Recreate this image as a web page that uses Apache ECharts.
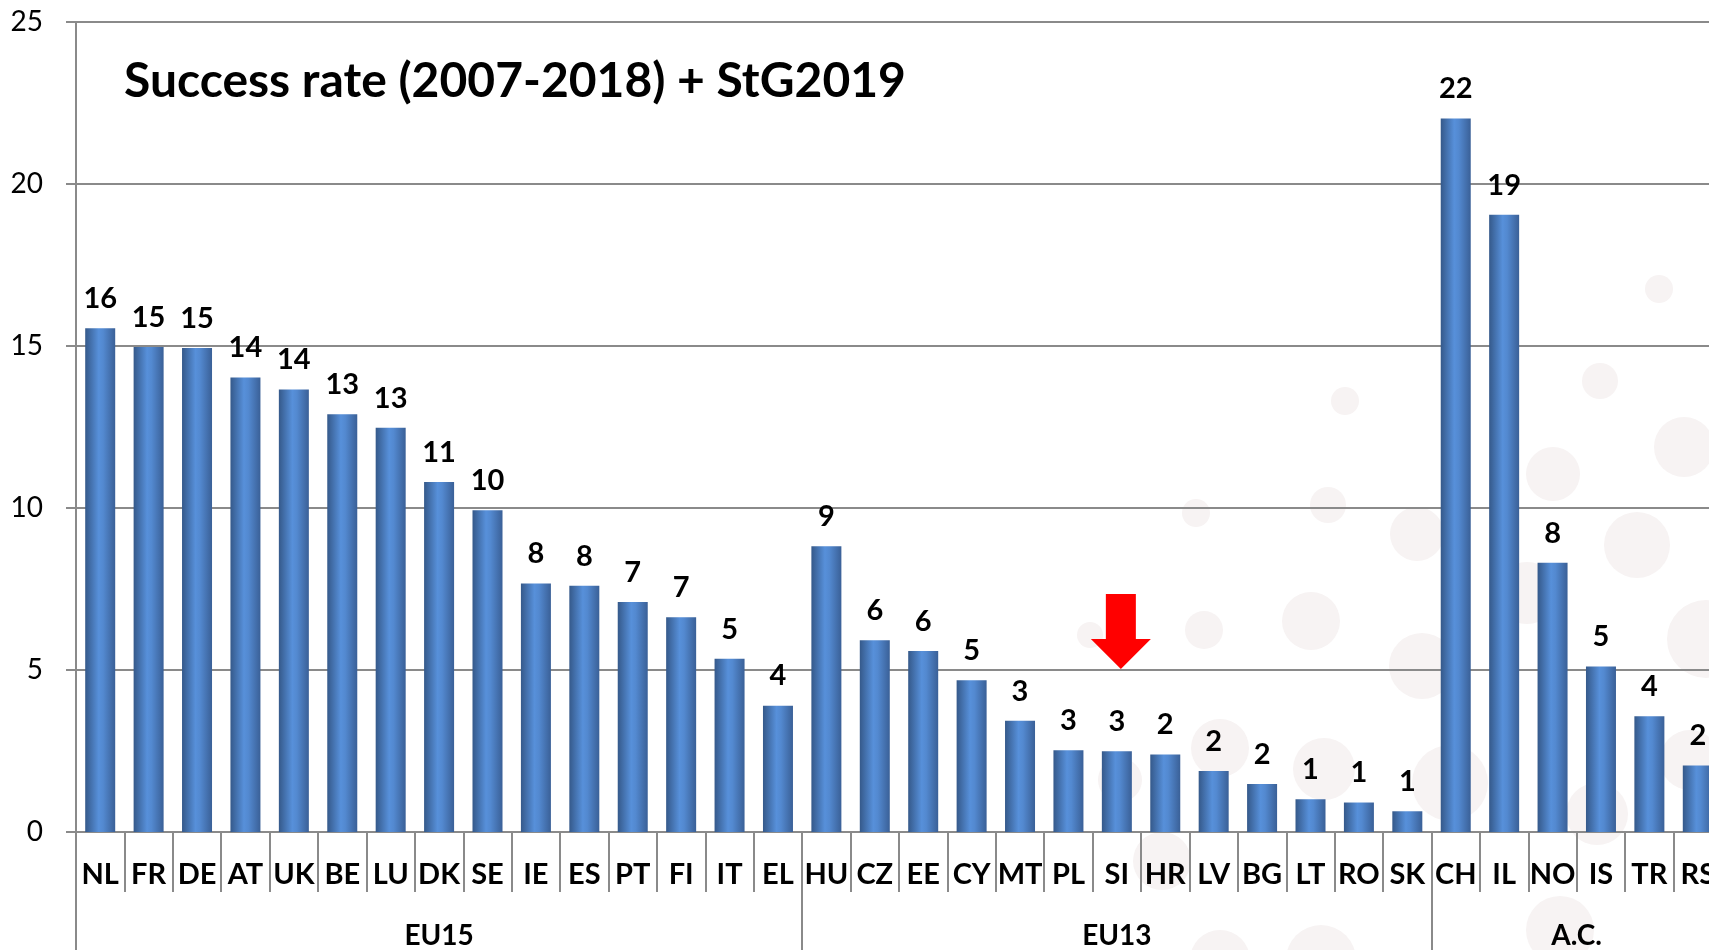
<!DOCTYPE html>
<html>
<head>
<meta charset="utf-8">
<script src="https://cdn.jsdelivr.net/npm/echarts@6/dist/echarts.min.js"></script>
<style>
  html, body { margin: 0; padding: 0; background: #fff; overflow: hidden; }
  #main { width: 1722px; height: 950px; }
</style>
</head>
<body>
<div id="main"></div>
<script>
// 国家代码
const countries = [
  'NL', 'FR', 'DE', 'AT', 'UK', 'BE', 'LU', 'DK', 'SE', 'IE', 'ES', 'PT', 'FI', 'IT', 'EL',
  'HU', 'CZ', 'EE', 'CY', 'MT', 'PL', 'SI', 'HR', 'LV', 'BG', 'LT', 'RO', 'SK',
  'CH', 'IL', 'NO', 'IS', 'TR', 'RS'
]
// success rate (%)
const rates = [
  15.55, 14.97, 14.94, 14.03, 13.66, 12.89, 12.48, 10.8, 9.93, 7.67, 7.6, 7.1, 6.63, 5.35, 3.9,
  8.82, 5.92, 5.59, 4.68, 3.43, 2.52, 2.49, 2.39, 1.88, 1.48, 1.01, 0.91, 0.64,
  22.02, 19.05, 8.31, 5.11, 3.57, 2.05
]
// labels shown on top of bars
const rateLabels = [
  '16', '15', '15', '14', '14', '13', '13', '11', '10', '8', '8', '7', '7', '5', '4',
  '9', '6', '6', '5', '3', '3', '3', '2', '2', '2', '1', '1', '1',
  '22', '19', '8', '5', '4', '2'
]
// groups: name, first index, count
const groupNames = ['EU15', 'EU13', 'A.C.']
const groupStart = [0, 15, 28]
const groupSize = [15, 13, 6]
const yTicks = [0, 5, 10, 15, 20, 25]
const markedCountry = 'SI'

const chartObj = echarts.init(document.getElementById('main'))

const gridColor = '#8a8a8a'
const font = 'Lato, "Open Sans", sans-serif'

// background dots
const dots = [
  [1659, 289, 14], [1600, 381, 18], [1684, 447, 30], [1553, 474, 27], [1345, 401, 14],
  [1328, 505, 18], [1196, 513, 14], [1417, 534, 27], [1637, 545, 33], [1311, 621, 29],
  [1204, 630, 19], [1090, 635, 13], [1422, 666, 33], [1527, 593, 31], [1706, 639, 39],
  [1220, 748, 29], [1324, 769, 31], [1597, 814, 31], [1162, 861, 29], [1220, 960, 30],
  [1321, 960, 35], [1450, 783, 38], [1690, 760, 30], [1560, 930, 34], [1120, 780, 22]
]

// group label lookup
const groupLabelAt = {}
groupNames.forEach((name, i) => {
  const center = groupStart[i] + (groupSize[i] - 1) / 2
  groupLabelAt[Math.floor(center)] = { name, half: center % 1 !== 0 }
})

const barColor = new echarts.graphic.LinearGradient(0, 0, 1, 0, [
  { offset: 0, color: '#35598a' },
  { offset: 0.45, color: '#5790da' },
  { offset: 0.6, color: '#5389d0' },
  { offset: 1, color: '#3a6097' }
])

const option = {
  animation: false,
  backgroundColor: '#fff',
  title: {
    text: 'Success rate (2007-2018) + StG2019',
    left: 119,
    top: 53,
    textStyle: { fontFamily: font, fontWeight: 'bold', fontSize: 48, color: '#000' }
  },
  grid: { left: 76, right: 0, top: 22, bottom: 118, containLabel: false },
  xAxis: [
    {
      type: 'category',
      data: countries,
      axisLine: { show: true, lineStyle: { color: gridColor, width: 2 } },
      axisTick: { show: true, interval: 0, length: 60, lineStyle: { color: gridColor, width: 2 } },
      axisLabel: {
        interval: 0,
        margin: 28,
        fontFamily: font,
        fontWeight: 'bold',
        fontSize: 29,
        color: '#000'
      }
    },
    {
      type: 'category',
      position: 'bottom',
      data: countries,
      axisLine: { show: false },
      axisTick: {
        show: true,
        length: 130,
        interval: (index) => groupStart.indexOf(index) >= 0,
        lineStyle: { color: gridColor, width: 2 }
      },
      axisLabel: {
        interval: 0,
        margin: 90,
        fontFamily: font,
        fontWeight: 'bold',
        fontSize: 28,
        color: '#000',
        formatter: (value, index) => {
          const g = groupLabelAt[index]
          if (!g) return ''
          return g.half ? '{half|' + g.name + '}' : g.name
        },
        rich: {
          half: {
            fontFamily: font,
            fontWeight: 'bold',
            fontSize: 28,
            color: '#000',
            padding: [0, 0, 0, 48]
          }
        }
      }
    }
  ],
  yAxis: {
    type: 'value',
    min: yTicks[0],
    max: yTicks[yTicks.length - 1],
    interval: 5,
    axisLine: { show: true, lineStyle: { color: gridColor, width: 2 } },
    axisTick: { show: true, length: 10, lineStyle: { color: gridColor, width: 2 } },
    axisLabel: { margin: 33, fontFamily: font, fontSize: 28, color: '#000' },
    splitLine: { show: true, lineStyle: { color: gridColor, width: 2 } }
  },
  series: [
    {
      type: 'bar',
      barWidth: 30,
      data: rates,
      itemStyle: { color: barColor },
      label: {
        show: true,
        position: 'top',
        distance: 15,
        fontFamily: font,
        fontWeight: 'bold',
        fontSize: 29,
        color: '#000',
        formatter: p => rateLabels[p.dataIndex]
      }
    }
  ]
}

chartObj.setOption(option)

// 红色箭头，指向 SI
const idx = countries.indexOf(markedCountry)
const tip = chartObj.convertToPixel({ gridIndex: 0 }, [idx, 5])
const cx = tip[0] + 4
const ty = tip[1] - 1
chartObj.setOption({
  graphic: dots.map(d => ({
    type: 'circle',
    z: -10,
    silent: true,
    shape: { cx: d[0], cy: d[1], r: d[2] },
    style: { fill: '#f7f3f3' }
  })).concat([{
    type: 'polygon',
    z: 100,
    shape: {
      points: [
        [cx - 15, ty - 75], [cx + 15, ty - 75], [cx + 15, ty - 30], [cx + 30, ty - 30],
        [cx, ty], [cx - 30, ty - 30], [cx - 15, ty - 30]
      ]
    },
    style: { fill: '#ff0000' }
  }])
})
</script>
</body>
</html>
